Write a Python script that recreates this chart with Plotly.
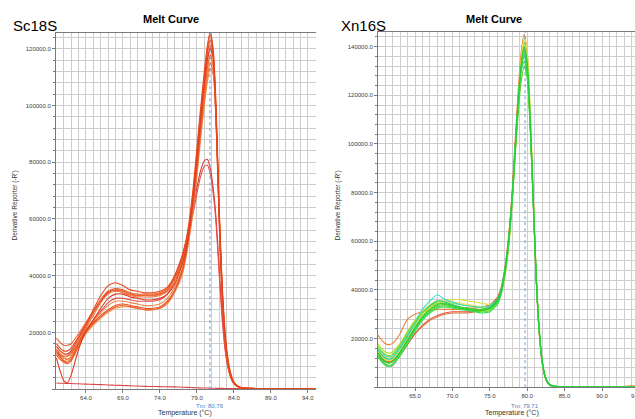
import plotly.graph_objects as go

# ---------------- data ----------------
TEMP_L = [60, 60.5, 61, 61.5, 62, 63, 64, 65, 66, 67, 68, 69, 70, 71, 72, 73, 74, 75, 76, 77,
          77.5, 78, 78.5, 79, 79.5, 80, 80.4, 80.8, 81.2, 81.6, 82, 82.4, 82.8, 83.2, 83.6, 84,
          84.5, 85, 87, 90, 95]

# Sc18S derivative reporter values (thousands)
SC_1 = [16, 14.5, 13.5, 13.5, 14.5, 18.5, 23, 28, 33, 36.5, 37.5, 36.5, 35, 34.5, 34, 34, 34.5, 36, 40, 47,
        52, 60, 71, 85, 99, 112, 121, 126, 119, 96, 61, 34, 18, 9, 4.5, 2.2, 1, 0.5, 0.2, 0.1, 0.1]
SC_2 = [18, 16.5, 15.5, 15.5, 16, 19.5, 23.5, 27.5, 31.5, 34.5, 35.5, 35, 34, 33.5, 33.5, 33.5, 34, 35.5, 39.5, 46,
        51, 59, 70, 83, 97, 109, 118, 123, 117, 94, 60, 33, 17, 8.5, 4, 2, 1, 0.5, 0.2, 0.1, 0.1]
SC_3 = [15, 13.5, 12.5, 12, 13, 17, 22, 27, 31.5, 34.5, 35, 34.5, 33.5, 33, 33, 33, 33.5, 35, 39, 45,
        50, 57, 67, 79, 92, 104, 113, 118, 114, 93, 60, 34, 18, 9, 4.5, 2.2, 1, 0.5, 0.2, 0.1, 0.1]
SC_4 = [14, 12.5, 11.5, 11.5, 12.5, 16.5, 21.5, 26, 30.5, 33.5, 34.5, 34, 33, 32.5, 32.5, 32.5, 33, 34.5, 38, 44,
        49, 56, 66, 78, 90, 102, 110, 115, 112, 94, 63, 36, 19, 10, 5, 2.4, 1.1, 0.5, 0.2, 0.1, 0.1]
SC_5 = [13, 11.5, 10, 9.5, 10.5, 16, 20.5, 23.5, 26, 28, 29.5, 30, 29.5, 29, 28.5, 28.5, 29, 31, 35, 42,
        48, 56, 67, 80, 95, 109, 119, 125, 120, 99, 64, 37, 20, 10, 5, 2.4, 1.1, 0.5, 0.2, 0.1, 0.1]
SC_6 = [12, 10.5, 9.5, 9, 10, 15, 20, 23, 25.5, 27.5, 29, 29.5, 29, 28.5, 28, 28, 28.5, 30.5, 34.5, 41,
        47, 55, 65, 78, 92, 106, 115, 121, 117, 97, 63, 36, 19, 9.5, 4.7, 2.3, 1, 0.5, 0.2, 0.1, 0.1]
SC_7 = [14, 12.5, 11, 10.5, 11.5, 16.5, 21, 24, 27, 29.5, 31, 31, 30.5, 30, 29.5, 29.5, 30, 32, 36, 42,
        47, 54, 63, 75, 88, 100, 108, 113, 111, 95, 65, 38, 21, 11, 5.5, 2.6, 1.2, 0.6, 0.2, 0.1, 0.1]
SC_8 = [12.5, 11, 10, 10, 11, 15.5, 19.5, 22.5, 25, 27, 28.5, 29, 29, 28.5, 28, 28, 28.5, 30, 34, 40,
        46, 54, 64, 76, 90, 103, 112, 117, 114, 95, 62, 35, 18, 9, 4.5, 2.2, 1, 0.5, 0.2, 0.1, 0.1]
SC_9 = [15, 13.5, 12.5, 12.5, 13.5, 18, 22.5, 27, 31, 34, 35, 34.5, 33.5, 33, 33, 33, 33.5, 35, 40, 47,
        52, 58, 64, 71, 77, 80.5, 81, 78, 71, 60, 43, 27, 15, 8, 4, 2, 1, 0.5, 0.2, 0.1, 0.1]
SC_10 = [13.5, 12, 11, 10.5, 11.5, 16, 20.5, 24, 27.5, 30.5, 32, 32, 31.5, 31, 31, 31, 31.5, 33.5, 38, 45,
         50, 56, 62, 69, 75, 78.5, 79, 76, 69, 58, 41, 25, 14, 7.5, 3.8, 1.9, 0.9, 0.5, 0.2, 0.1, 0.1]
SC_11 = [11, 6.5, 3, 2.2, 5, 14, 20.5, 24.5, 28.5, 32, 33.5, 33.5, 32.5, 32, 31.5, 31.5, 32, 33.5, 37, 44,
         49, 57, 68, 81, 95, 108, 116, 120, 117, 97, 63, 36, 19, 9.5, 4.7, 2.3, 1, 0.5, 0.2, 0.1, 0.1]
SC_NTC = [2.2, 2.1, 2.1, 2.0, 2.0, 1.9, 1.8, 1.7, 1.6, 1.5, 1.4, 1.3, 1.2, 1.1, 1.0, 0.95, 0.9, 0.85, 0.8, 0.7,
          0.65, 0.6, 0.55, 0.5, 0.45, 0.4, 0.4, 0.35, 0.35, 0.3, 0.3, 0.3, 0.25, 0.25, 0.25, 0.2, 0.2, 0.2, 0.2,
          0.15, 0.1]

SC_SERIES = [SC_NTC, SC_9, SC_10, SC_8, SC_7, SC_4, SC_3, SC_6, SC_2, SC_5, SC_11, SC_1]
SC_COLORS = ["#D84848", "#D83838", "#E05050", "#F4A060", "#F08848", "#F07038", "#EE6A30", "#E8602A",
             "#F05A28", "#E85020", "#E03A20", "#E8481C"]

TEMP_R = [60, 60.5, 61, 61.5, 62, 63, 64, 65, 66, 67, 68, 69, 70, 71, 72, 73, 74, 75, 76, 76.5, 77, 77.5,
          78, 78.4, 78.8, 79.2, 79.6, 80.0, 80.4, 80.8, 81.2, 81.6, 82.0, 82.4, 82.8, 83.2, 84, 86, 90, 93, 94, 95]

XN_1 = [21.5, 19.5, 18, 17.5, 18, 22, 28, 30, 31, 31.5, 32, 32, 32, 32, 32.5, 32.5, 33, 34, 37, 41, 49, 62,
        81, 102, 122, 138, 145, 137, 112, 79, 46, 23, 10, 4, 1.5, 0.6, 0.2, 0.1, 0.1, 0.3, 0.6, 0.3]
XN_2 = [14, 11.5, 9.5, 8.5, 9, 13, 17.5, 22, 25.5, 28, 29.5, 30.5, 31, 31, 31, 31.5, 32, 33.5, 36.5, 40, 48, 60,
        79, 99, 118, 133, 139, 132, 109, 77, 45, 23, 10, 4, 1.5, 0.6, 0.2, 0.1, 0.1, 0.1, 0.1, 0.1]
XN_3 = [16.5, 14.5, 13, 12.5, 13, 17, 22, 27, 32, 35.5, 38, 36, 35, 34, 33.5, 33, 33, 33.5, 36, 40, 48, 60,
        78, 98, 117, 132, 138, 132, 110, 78, 46, 24, 11, 4.5, 1.8, 0.8, 0.3, 0.1, 0.1, 0.1, 0.1, 0.1]
XN_4 = [15, 13, 11.5, 11, 11.5, 15, 20, 25, 29.5, 32.5, 34.5, 35.5, 36, 36, 35.5, 35, 34.5, 34, 35.5, 39, 46, 58,
        77, 97, 118, 135, 144, 138, 114, 80, 47, 24, 11, 4.5, 1.8, 0.8, 0.3, 0.1, 0.1, 0.1, 0.1, 0.1]
XN_5 = [14, 12, 10.5, 10, 10.5, 14.5, 19.5, 24.5, 29, 32, 34, 34.5, 33.5, 32.5, 32, 31.5, 31.5, 32.5, 35.5, 39.5,
        47.5, 60, 79, 99, 118, 133, 140, 133, 110, 78, 46, 24, 11, 4.5, 1.8, 0.8, 0.3, 0.1, 0.1, 0.1, 0.1, 0.1]
XN_6 = [13, 11, 9.5, 9, 9.5, 13.5, 18.5, 23.5, 28, 31, 33, 33.5, 33, 32.5, 32, 31.5, 31.5, 32, 35, 39, 47, 59,
        78, 98, 117, 131, 137, 131, 109, 77, 45, 23, 10.5, 4.2, 1.7, 0.7, 0.3, 0.1, 0.1, 0.1, 0.1, 0.1]
XN_7 = [17, 15, 13.5, 13, 13.5, 17.5, 22.5, 27, 30.5, 33, 34.5, 34, 33, 32.5, 32, 31.5, 31, 31.5, 34.5, 38.5, 46,
        58, 77, 97, 116, 131, 139, 133, 110, 78, 46, 24, 11, 4.5, 1.8, 0.8, 0.3, 0.1, 0.1, 0.1, 0.1, 0.1]
XN_8 = [18, 16, 14.5, 14, 14.5, 18, 23, 27.5, 31, 33.5, 35, 35, 34.5, 34, 33.5, 33, 32.5, 32, 34, 38, 45, 57,
        76, 96, 116, 132, 142, 136, 112, 79, 46, 23, 10.5, 4.2, 1.7, 0.7, 0.3, 0.1, 0.1, 0.1, 0.1, 0.1]
XN_9 = [15.5, 13.5, 12, 11.5, 12, 16, 21, 26, 30.5, 33.5, 35.5, 35, 34, 33, 32.5, 32, 32, 33, 36, 40, 48, 60,
        79, 99, 118, 132, 136, 130, 108, 77, 45, 23, 10.5, 4.2, 1.7, 0.7, 0.3, 0.1, 0.1, 0.1, 0.1, 0.1]
XN_10 = [14.5, 12.5, 11, 10.5, 11, 14, 18, 22, 25, 27.5, 29, 30, 30.5, 30.5, 30.5, 31, 31.5, 33, 36, 40, 48, 61,
         80, 100, 119, 133, 138, 131, 108, 76, 44, 22, 10, 4, 1.5, 0.6, 0.2, 0.1, 0.1, 0.1, 0.1, 0.1]
XN_11 = [12.5, 10.5, 9, 8.5, 9, 13, 18, 23, 27.5, 30.5, 32.5, 33, 32.5, 32, 31.5, 31, 30.5, 31, 34, 38, 46, 58,
         77, 97, 116, 130, 134, 128, 107, 76, 45, 23, 10.5, 4.2, 1.7, 0.7, 0.3, 0.1, 0.1, 0.1, 0.1, 0.1]
XN_12 = [16, 14, 12.5, 12, 12.5, 16.5, 21.5, 26.5, 31, 34, 35.5, 35.5, 35, 34.5, 34, 33.5, 33, 33, 35, 39, 46, 58,
         77, 97, 117, 134, 143, 137, 113, 79, 46, 23, 10.5, 4.2, 1.7, 0.7, 0.3, 0.1, 0.1, 0.1, 0.1, 0.1]
XN_13 = [14, 12, 10.5, 10, 10.5, 14, 19, 24, 28.5, 31.5, 33.5, 34, 33.5, 33, 32.5, 32, 32, 32.5, 35, 39, 47, 59,
         77, 96, 113, 126, 132, 127, 106, 76, 45, 23, 10.5, 4.2, 1.7, 0.7, 0.3, 0.1, 0.1, 0.1, 0.1, 0.1]

XN_SERIES = [XN_1, XN_10, XN_2, XN_4, XN_12, XN_8, XN_3, XN_9, XN_7, XN_13, XN_6, XN_11, XN_5]
XN_COLORS = ["#E8843A", "#E87040", "#E05A3A", "#E0E040", "#EEDD55", "#BBDD33", "#33DDCC", "#22CC99",
             "#88DD22", "#55CC22", "#44DD44", "#33E055", "#22CC33"]

TM_SC = 80.76
TM_XN = 79.71

# ---------------- figure ----------------
W, H = 635, 419
FONT = "Liberation Sans, Arial, sans-serif"
fig = go.Figure()

for s, c in zip(SC_SERIES, SC_COLORS):
    assert len(s) == len(TEMP_L)
    fig.add_trace(go.Scatter(x=TEMP_L, y=[v * 1000 for v in s], mode="lines",
                             line=dict(color=c, width=1.1, shape="spline", smoothing=0.6),
                             xaxis="x", yaxis="y", showlegend=False, hoverinfo="skip"))
for s, c in zip(XN_SERIES, XN_COLORS):
    assert len(s) == len(TEMP_R)
    fig.add_trace(go.Scatter(x=TEMP_R, y=[v * 1000 for v in s], mode="lines",
                             line=dict(color=c, width=1.1, shape="spline", smoothing=0.6),
                             xaxis="x2", yaxis="y2", showlegend=False, hoverinfo="skip"))

def px_x(p):
    return p / W

def px_y(p):
    return 1 - p / H

grid = "#CDCDCD"
axis_line = "#7A7A7A"
tickfont = dict(family=FONT, size=6, color="#404040")

common_x = dict(showline=True, linecolor=axis_line, linewidth=1, mirror=True,
                showgrid=True, gridcolor=grid, gridwidth=1, zeroline=False,
                ticks="outside", ticklen=3, tickcolor=axis_line, tickfont=tickfont,
                tickformat=".1f", dtick=5,
                minor=dict(dtick=1, showgrid=True, gridcolor=grid, gridwidth=1, ticks=""))
common_y = dict(showline=True, linecolor=axis_line, linewidth=1,
                showgrid=True, gridcolor=grid, gridwidth=1, zeroline=False,
                ticks="outside", ticklen=3, tickcolor=axis_line, tickfont=tickfont,
                tickformat=".1f", dtick=20000, tick0=0, labelalias={"0.0": " "},
                minor=dict(dtick=4000, tick0=0, showgrid=True, gridcolor=grid, gridwidth=1,
                           ticks="outside", ticklen=2, tickcolor=axis_line))

fig.update_layout(
    width=W, height=H,
    margin=dict(l=0, r=0, t=0, b=0),
    paper_bgcolor="white", plot_bgcolor="white",
    font=dict(family=FONT),
    xaxis=dict(common_x, domain=[px_x(56), px_x(316)], range=[59.95, 95.1], tick0=64,
               anchor="y"),
    yaxis=dict(common_y, domain=[px_y(392), px_y(33)], range=[0, 125600], anchor="x"),
    xaxis2=dict(common_x, domain=[px_x(378), 1.0], range=[60.05, 94.41], tick0=65,
                anchor="y2"),
    yaxis2=dict(common_y, domain=[px_y(390), px_y(32)], range=[0, 146100], anchor="x2"),
)

# Tm lines
fig.add_shape(type="line", xref="x", yref="y domain", x0=TM_SC, x1=TM_SC, y0=0, y1=1,
              line=dict(color="#6C9BD8", width=1, dash="dot"), layer="above")
fig.add_shape(type="line", xref="x2", yref="y2 domain", x0=TM_XN, x1=TM_XN, y0=0, y1=1,
              line=dict(color="#6C9BD8", width=1, dash="dot"), layer="above")

ann = []
def text(x, y, t, size, color="black", bold=False, angle=0, xref="paper", xanchor="center"):
    ann.append(dict(x=x, y=y, xref=xref, yref="paper", text=("<b>%s</b>" % t) if bold else t,
                    showarrow=False, xanchor=xanchor, yanchor="middle", textangle=angle,
                    font=dict(family=FONT, size=size, color=color)))

text(px_x(171), px_y(19), "Melt Curve", 11, bold=True)
text(px_x(494), px_y(19), "Melt Curve", 11, bold=True)
text(px_x(35), px_y(26), "Sc18S", 15)
text(px_x(363), px_y(26), "Xn16S", 15)
text(px_x(15), px_y(207), "Derivative Reporter (-R')", 6.5, color="#333333", angle=-90)
text(px_x(338), px_y(207), "Derivative Reporter (-R')", 6.5, color="#333333", angle=-90)
text(px_x(185), px_y(416), "Temperature (°C)", 7, color="#333333")
text(px_x(512), px_y(416), "Temperature (°C)", 7, color="#333333")
text(TM_SC, px_y(409), "Tm: %.2f" % TM_SC, 6, color="#4A7CC0", xref="x")
text(TM_XN, px_y(409), "Tm: %.2f" % TM_XN, 6, color="#4A7CC0", xref="x2")
# only the first digit of the right panel's "95.0" tick label is visible at the picture edge
text(px_x(629), px_y(399), "9", 6, color="#404040", xanchor="left")
fig.update_layout(annotations=ann)

fig.write_html("out.html", config={"displayModeBar": False},
               post_script="document.body.style.margin='0';document.body.style.overflow='hidden';")
